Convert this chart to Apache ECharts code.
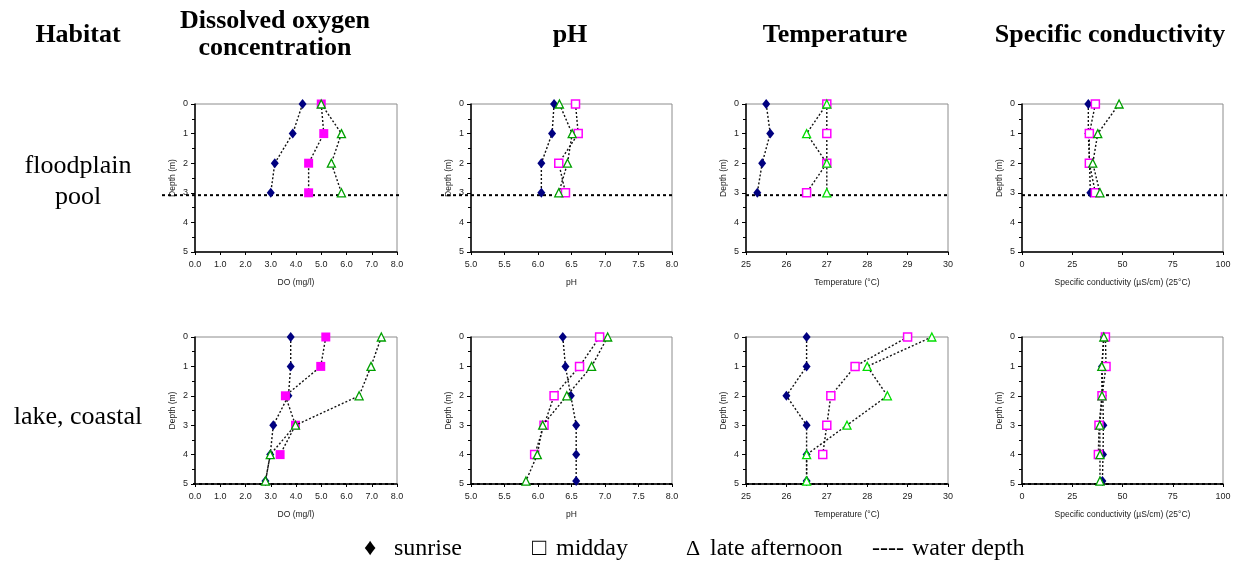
<!DOCTYPE html>
<html>
<head>
<meta charset="utf-8">
<script src="https://cdn.jsdelivr.net/npm/echarts@6/dist/echarts.min.js"></script>
<style>
  html, body { margin: 0; padding: 0; background: #fff; }
  #chart { width: 1241px; height: 567px; }
</style>
</head>
<body>
<div id="chart"></div>
<script>
// Depth profiles (m) for the two habitats
const depthPool = [0, 1, 2, 3];
const depthLake = [0, 1, 2, 3, 4, 4.9];
const depthLakeMidday = [0, 1, 2, 3, 4];
const waterDepthPool = 3.08;
const waterDepthLake = 5;

// Floodplain pool
const poolDOSunrise = [4.26, 3.87, 3.16, 3.0];
const poolDOMidday = [5.0, 5.1, 4.5, 4.5];
const poolDOLate = [5.0, 5.8, 5.4, 5.8];
const poolPHSunrise = [6.24, 6.21, 6.05, 6.05];
const poolPHMidday = [6.56, 6.6, 6.31, 6.41];
const poolPHLate = [6.32, 6.51, 6.44, 6.31];
const poolTSunrise = [25.5, 25.6, 25.4, 25.28];
const poolTMidday = [27.0, 27.0, 27.0, 26.5];
const poolTLate = [27.0, 26.5, 27.0, 27.0];
const poolCSunrise = [33, 33, 33.6, 34];
const poolCMidday = [36.5, 33.5, 33.5, 36.5];
const poolCLate = [48.3, 37.7, 35.2, 38.8];

// Lake, coastal
const lakeDOSunrise = [3.79, 3.79, 3.7, 3.1, 2.98, 2.79];
const lakeDOMidday = [5.18, 4.98, 3.58, 3.98, 3.37];
const lakeDOLate = [7.38, 6.97, 6.5, 3.98, 2.98, 2.79];
const lakePHSunrise = [6.37, 6.41, 6.49, 6.57, 6.57, 6.57];
const lakePHMidday = [6.92, 6.62, 6.24, 6.09, 5.95];
const lakePHLate = [7.04, 6.8, 6.43, 6.07, 5.99, 5.82];
const lakeTSunrise = [26.5, 26.5, 26.0, 26.5, 26.5, 26.5];
const lakeTMidday = [29.0, 27.7, 27.1, 27.0, 26.9];
const lakeTLate = [29.6, 28.0, 28.5, 27.5, 26.5, 26.5];
const lakeCSunrise = [40.7, 39.8, 40.2, 40.5, 40.3, 40.0];
const lakeCMidday = [41.5, 41.8, 39.8, 38.3, 38.0];
const lakeCLate = [40.7, 39.7, 39.8, 38.7, 38.8, 38.8];

// Column headings, row headings, axis names and ranges
const columnTitles = ['Dissolved oxygen\nconcentration', 'pH', 'Temperature', 'Specific conductivity'];
const rowTitles = ['floodplain\npool', 'lake, coastal'];
const xNames = ['DO (mg/l)', 'pH', 'Temperature (°C)', 'Specific conductivity (µS/cm) (25°C)'];
const xMin = [0, 5, 25, 0];
const xMax = [8, 8, 30, 100];
const xStep = [1, 0.5, 1, 25];
const xDecimals = [1, 1, 0, 0];
const yName = 'Depth (m)';
const legendItems = ['♦', 'sunrise', '□', 'midday', 'Δ', 'late afternoon', '----', 'water depth'];

const rows = [
  {
    depth: [depthPool, depthPool, depthPool], water: waterDepthPool,
    cols: [
      [poolDOSunrise, poolDOMidday, poolDOLate],
      [poolPHSunrise, poolPHMidday, poolPHLate],
      [poolTSunrise, poolTMidday, poolTLate],
      [poolCSunrise, poolCMidday, poolCLate]
    ]
  },
  {
    depth: [depthLake, depthLakeMidday, depthLake], water: waterDepthLake,
    cols: [
      [lakeDOSunrise, lakeDOMidday, lakeDOLate],
      [lakePHSunrise, lakePHMidday, lakePHLate],
      [lakeTSunrise, lakeTMidday, lakeTLate],
      [lakeCSunrise, lakeCMidday, lakeCLate]
    ]
  }
];

// Layout of the eight plot areas
const gridLeft = [195, 471, 746, 1022];
const gridWidth = [202, 201, 202, 201];
const gridTop = [104, 337];
const gridHeight = [148, 147];
// how far the water-depth line runs past each plot area
const waterExtLeft = [[33, 30, 0, 0], [2, 0, 0, 0]];
const waterExtRight = [[3, 0, 2, 4], [0, 0, 0, 0]];

const SANS = 'Liberation Sans, Arial, sans-serif';
const SERIF = 'Liberation Serif, Times New Roman, serif';
const GREEN = ['#00A000', '#00A000', '#00DD00', '#00A000'];

const grids = [], xAxes = [], yAxes = [], series = [];

rows.forEach((row, r) => {
  row.cols.forEach((vals, c) => {
    const idx = grids.length;
    grids.push({
      left: gridLeft[c], top: gridTop[r], width: gridWidth[c], height: gridHeight[r],
      show: true, borderColor: '#8c8c8c', borderWidth: 1, backgroundColor: 'transparent'
    });
    xAxes.push({
      gridIndex: idx, type: 'value', position: 'bottom',
      min: xMin[c], max: xMax[c], interval: xStep[c],
      name: xNames[c], nameLocation: 'middle', nameGap: 26,
      nameTextStyle: { fontFamily: SANS, fontSize: 8.5, color: '#222' },
      axisLine: { onZero: false, lineStyle: { color: '#000', width: 1.5 } },
      axisTick: { show: true, length: 3, lineStyle: { color: '#000' } },
      axisLabel: { fontFamily: SANS, fontSize: 9, color: '#222', margin: 8,
        formatter: v => Number(v).toFixed(xDecimals[c]) },
      splitLine: { show: false }
    });
    yAxes.push({
      gridIndex: idx, type: 'value', inverse: true,
      min: 0, max: 5, interval: 1,
      name: yName, nameLocation: 'middle', nameGap: 18, nameRotate: 90,
      nameTextStyle: { fontFamily: SANS, fontSize: 8.5, color: '#222' },
      axisLine: { onZero: false, lineStyle: { color: '#000', width: 1.5 } },
      axisTick: { show: true, length: 4, lineStyle: { color: '#000' } },
      minorTick: { show: true, splitNumber: 2, length: 3, lineStyle: { color: '#000' } },
      axisLabel: { fontFamily: SANS, fontSize: 9, color: '#222', margin: 7 },
      splitLine: { show: false }
    });

    // water depth
    const extL = waterExtLeft[r][c], extR = waterExtRight[r][c];
    series.push({
      type: 'custom', xAxisIndex: idx, yAxisIndex: idx, clip: false, silent: true, z: 1,
      data: [[xMin[c], row.water]],
      renderItem: (params, api) => {
        const cs = params.coordSys;
        const y = api.coord([api.value(0), api.value(1)])[1];
        return {
          type: 'line',
          shape: { x1: cs.x - extL, y1: y, x2: cs.x + cs.width + extR, y2: y },
          style: { stroke: '#000', lineWidth: 2, lineDash: [3, 3] }
        };
      }
    });

    const lineStyle = { color: '#111', width: 1.4, type: [2, 2] };
    const filledMidday = c === 0;
    // sunrise
    series.push({
      type: 'line', xAxisIndex: idx, yAxisIndex: idx, z: 3,
      data: vals[0].map((v, i) => [v, row.depth[0][i]]),
      lineStyle, symbol: 'diamond', symbolSize: [8, 10],
      itemStyle: { color: '#000080' }
    });
    // midday
    series.push({
      type: 'line', xAxisIndex: idx, yAxisIndex: idx, z: 4,
      data: vals[1].map((v, i) => [v, row.depth[1][i]]),
      lineStyle, symbol: 'rect', symbolSize: filledMidday ? 9 : 8,
      itemStyle: filledMidday
        ? { color: '#FF00FF' }
        : { color: '#fff', borderColor: '#FF00FF', borderWidth: 1.5 }
    });
    // late afternoon
    series.push({
      type: 'line', xAxisIndex: idx, yAxisIndex: idx, z: 5,
      data: vals[2].map((v, i) => [v, row.depth[2][i]]),
      lineStyle, symbol: 'triangle', symbolSize: 8,
      itemStyle: { color: '#fff', borderColor: GREEN[c], borderWidth: 1.3 }
    });
  });
});

// Headings and legend text
const headX = [275, 570, 835, 1110];
const graphics = [];
const bold = { fontFamily: SERIF, fontSize: 26, fontWeight: 'bold', fill: '#000',
  textAlign: 'center', textVerticalAlign: 'middle', lineHeight: 27 };
graphics.push({ type: 'text', x: 78, y: 35, style: Object.assign({ text: 'Habitat' }, bold) });
columnTitles.forEach((t, i) => {
  graphics.push({ type: 'text', x: headX[i], y: 35, style: Object.assign({ text: t }, bold) });
});
const reg = { fontFamily: SERIF, fontSize: 26, fill: '#000',
  textAlign: 'center', textVerticalAlign: 'middle', lineHeight: 31 };
graphics.push({ type: 'text', x: 78, y: 182, style: Object.assign({ text: rowTitles[0] }, reg) });
graphics.push({ type: 'text', x: 78, y: 417, style: Object.assign({ text: rowTitles[1] }, reg) });

const legendX = [364, 394, 532, 556, 686, 710, 872, 912];
const legendSize = [24, 24, 24, 24, 22, 24, 24, 24];
legendItems.forEach((t, i) => {
  graphics.push({ type: 'text', x: legendX[i], y: 549,
    style: { text: t, fontFamily: SERIF, fontSize: legendSize[i], fill: '#000',
      textAlign: 'left', textVerticalAlign: 'middle' } });
});

const chart = echarts.init(document.getElementById('chart'), null, { renderer: 'canvas' });
chart.setOption({
  animation: false,
  backgroundColor: '#fff',
  grid: grids, xAxis: xAxes, yAxis: yAxes, series,
  graphic: graphics
});
</script>
</body>
</html>
